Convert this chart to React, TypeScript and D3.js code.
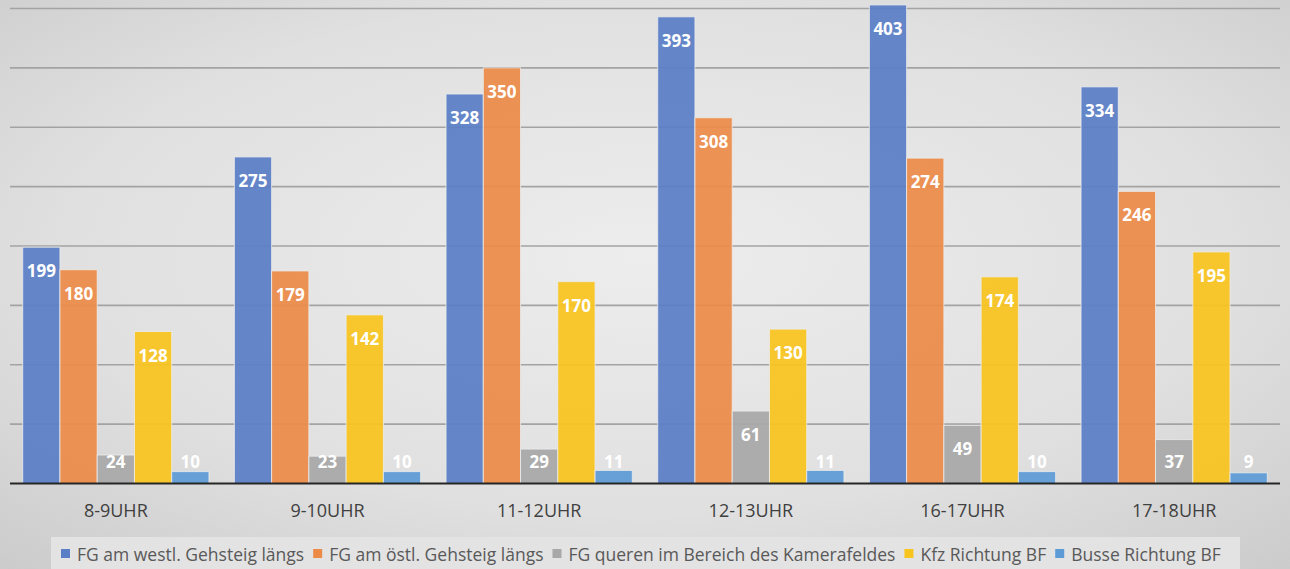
import React, { useEffect, useRef } from "react";
import * as d3 from "d3";

// time slots on the x axis
const categories = ["8-9UHR", "9-10UHR", "11-12UHR", "12-13UHR", "16-17UHR", "17-18UHR"];

const seriesNames = [
  "FG am westl. Gehsteig längs",
  "FG am östl. Gehsteig längs",
  "FG queren im Bereich des Kamerafeldes",
  "Kfz Richtung BF",
  "Busse Richtung BF",
];

const westl = [199, 275, 328, 393, 403, 334];
const oestl = [180, 179, 350, 308, 274, 246];
const queren = [24, 23, 29, 61, 49, 37];
const kfz = [128, 142, 170, 130, 174, 195];
const busse = [10, 10, 11, 11, 10, 9];

const gridTicks = [0, 50, 100, 150, 200, 250, 300, 350, 400];

const colors = ["#5a7fc7", "#ec8b48", "#a8a8a8", "#f8c41e", "#5d9bd6"];

const W = 1290;
const H = 569;

const App = () => {
  const svgRef = useRef<SVGSVGElement>(null);

  useEffect(() => {
    const svg = d3.select(svgRef.current);
    svg.selectAll("*").remove();

    const allSeries = [westl, oestl, queren, kfz, busse];
    const rows = categories.map((c, i) => ({
      cat: c,
      vals: allSeries.map((s, k) => ({ key: seriesNames[k], k, v: s[i] })),
    }));

    // background
    const defs = svg.append("defs");
    const grad = defs
      .append("radialGradient")
      .attr("id", "bg")
      .attr("cx", "50%")
      .attr("cy", "45%")
      .attr("r", "75%");
    grad.append("stop").attr("offset", "0%").attr("stop-color", "#ededed");
    grad.append("stop").attr("offset", "60%").attr("stop-color", "#e0e0e0");
    grad.append("stop").attr("offset", "100%").attr("stop-color", "#cbcbcb");
    svg.append("rect").attr("width", W).attr("height", H).attr("fill", "url(#bg)");

    const x0 = d3
      .scaleBand()
      .domain(categories)
      .range([10, 1280])
      .paddingInner(0.12)
      .paddingOuter(0.06);

    const x1 = d3
      .scaleBand()
      .domain(seriesNames)
      .range([0, x0.bandwidth()])
      .padding(0);

    const y = d3.scaleLinear().domain([0, 400]).range([483.5, 8.5]);

    // gridlines
    svg
      .append("g")
      .selectAll("line")
      .data(gridTicks.filter((t) => t > 0))
      .enter()
      .append("line")
      .attr("x1", 10)
      .attr("x2", 1280)
      .attr("y1", (d) => y(d))
      .attr("y2", (d) => y(d))
      .attr("stroke", "#a3a3a3")
      .attr("stroke-width", 1.6);

    // bars
    const groups = svg
      .append("g")
      .selectAll("g")
      .data(rows)
      .enter()
      .append("g")
      .attr("transform", (d) => `translate(${x0(d.cat)},0)`);

    groups
      .selectAll("rect")
      .data((d) => d.vals)
      .enter()
      .append("rect")
      .attr("x", (d) => x1(d.key)!)
      .attr("y", (d) => y(d.v))
      .attr("width", x1.bandwidth())
      .attr("height", (d) => y(0) - y(d.v))
      .attr("fill", (d) => colors[d.k])
      .attr("fill-opacity", 0.93)
      .attr("stroke", "#ececec")
      .attr("stroke-opacity", 0.8)
      .attr("stroke-width", 1);

    // value labels
    groups
      .selectAll("text")
      .data((d) => d.vals)
      .enter()
      .append("text")
      .attr("x", (d) => x1(d.key)! + x1.bandwidth() / 2)
      .attr("y", (d) => Math.min(y(d.v) + 24, y(0) - 22) + 6)
      .attr("text-anchor", "middle")
      .attr("font-family", "'Open Sans', sans-serif")
      .attr("font-weight", "bold")
      .attr("font-size", 17)
      .attr("fill", "#ffffff")
      .text((d) => d.v);

    // baseline
    svg
      .append("line")
      .attr("x1", 10)
      .attr("x2", 1280)
      .attr("y1", y(0))
      .attr("y2", y(0))
      .attr("stroke", "#262626")
      .attr("stroke-width", 2.2);

    // category labels
    svg
      .append("g")
      .selectAll("text")
      .data(categories)
      .enter()
      .append("text")
      .attr("x", (d) => x0(d)! + x0.bandwidth() / 2)
      .attr("y", 517)
      .attr("text-anchor", "middle")
      .attr("font-family", "'Open Sans', sans-serif")
      .attr("font-size", 18)
      .attr("fill", "#404040")
      .text((d) => d);

    // legend
    svg
      .append("rect")
      .attr("x", 51)
      .attr("y", 537)
      .attr("width", 1189)
      .attr("height", 40)
      .attr("fill", "#e3e3e3");

    const legend = svg.append("g");
    let lx = 61;
    seriesNames.forEach((name, k) => {
      legend
        .append("rect")
        .attr("x", lx)
        .attr("y", 549)
        .attr("width", 9)
        .attr("height", 9)
        .attr("fill", colors[k]);
      const t = legend
        .append("text")
        .attr("x", lx + 16)
        .attr("y", 561)
        .attr("font-family", "'Open Sans', sans-serif")
        .attr("font-size", 17.5)
        .attr("fill", "#595959")
        .text(name);
      const len = (t.node() as SVGTextElement).getComputedTextLength();
      lx += 16 + len + 9;
    });
  }, []);

  return (
    <svg
      ref={svgRef}
      width={W}
      height={H}
      style={{ position: "absolute", left: 0, top: 0, display: "block" }}
    />
  );
};

export default App;
